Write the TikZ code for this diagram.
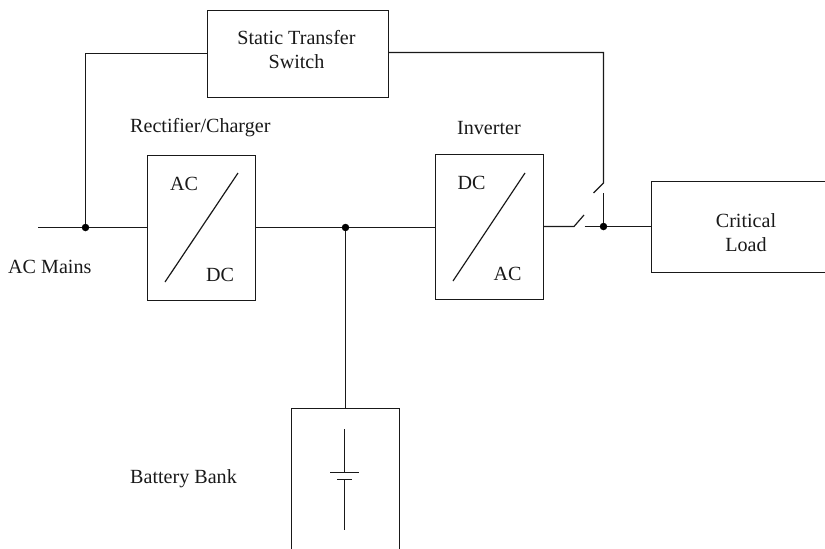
\documentclass[tikz,border=0pt]{standalone}
\usepackage{fontspec}
\setmainfont{Liberation Serif}
\tikzset{
  x=1pt,y=-1pt,
  wire/.style={line width=1.2pt,black!90},
  blockbox/.style={draw,line width=1.2pt,black!90,inner sep=0pt,outer sep=0pt,anchor=north west},
  txt/.style={inner sep=0pt,font=\fontsize{20.1}{24.5}\selectfont,text=black!90},
  junction/.style={circle,fill=black,inner sep=0pt,minimum size=7.5pt},
}
\begin{document}
\begin{tikzpicture}
\useasboundingbox (0,0) rectangle (825,549);
% boxes
\node[blockbox,minimum width=181pt,minimum height=87pt] (sts) at (207.5,10.5) {};
\node[txt,align=center] (stslabel) at (296.5,49.5) {Static Transfer\\Switch};
\node[blockbox,minimum width=108pt,minimum height=145pt] (rect) at (147.5,155.5) {};
\node[blockbox,minimum width=108pt,minimum height=145pt] (inv) at (435.5,154.5) {};
% open boxes
\coordinate (loadtr) at (825,181.5);
\coordinate (loadtl) at (651.5,181.5);
\coordinate (loadbl) at (651.5,272.5);
\coordinate (loadbr) at (825,272.5);
\draw[wire] (loadtr) -- (loadtl) -- (loadbl) -- (loadbr);
\node[txt,align=center] (load) at (746,232.5) {Critical\\Load};
\coordinate (battl) at (291.5,549);
\coordinate (batul) at (291.5,408.5);
\coordinate (batur) at (399.5,408.5);
\coordinate (battr) at (399.5,549);
\draw[wire] (battl) -- (batul) -- (batur) -- (battr);
% junctions
\node[junction] (j1) at (85.5,227.5) {};
\node[junction] (j2) at (345.5,227.5) {};
\node[junction] (j3) at (603.5,226.5) {};
% free ends
\coordinate (src) at (38,227.5);
\coordinate (sw1a) at (574,226.5);
\coordinate (sw1b) at (584,215);
\coordinate (sw1c) at (584.5,226.5);
\coordinate (sw2a) at (603.5,183);
\coordinate (sw2b) at (593.5,193);
\coordinate (sw2c) at (603.5,193);
\coordinate (stsL) at (85.5,53.5);
\coordinate (stsR) at (603.5,52.5);
% wires
\draw[wire] (src) -- (j1) -- (rect.west |- j1);
\draw[wire] (rect.east |- j2) -- (j2) -- (inv.west |- j2);
\draw[wire] (j1) -- (stsL) -- (sts.west |- stsL);
\draw[wire] (sts.east |- stsR) -- (stsR) -- (sw2a) -- (sw2b);
\draw[wire] (sw2c) -- (j3);
\draw[wire] (inv.east |- sw1a) -- (sw1a) -- (sw1b);
\draw[wire] (sw1c) -- (j3) -- (loadtl |- j3);
\draw[wire] (j2) -- (j2 |- batul);
% converter slashes
\coordinate (r1) at (165,282);
\coordinate (r2) at (238,173);
\coordinate (i1) at (453,281);
\coordinate (i2) at (525,173);
\draw[wire] (r1) -- (r2);
\draw[wire] (i1) -- (i2);
% battery symbol
\coordinate (b1) at (344.5,429);
\coordinate (b2) at (344.5,472.5);
\coordinate (b3) at (344.5,479.5);
\coordinate (b4) at (344.5,530);
\coordinate (p1) at (330,472.5);
\coordinate (p2) at (359,472.5);
\coordinate (p3) at (337,479.5);
\coordinate (p4) at (352,479.5);
\draw[wire] (b1) -- (b2);
\draw[wire] (b3) -- (b4);
\draw[wire] (p1) -- (p2);
\draw[wire] (p3) -- (p4);
% labels
\node[txt,anchor=west] (l1) at (130,128) {Rectifier/Charger};
\node[txt,anchor=west] (l2) at (457,128) {Inverter};
\node[txt,anchor=west] (l3) at (8,267) {AC Mains};
\node[txt,anchor=west] (l4) at (130,479) {Battery Bank};
\node[txt,anchor=west] (a1) at (170,184) {AC};
\node[txt,anchor=west] (a2) at (206,275) {DC};
\node[txt,anchor=west] (a3) at (457.5,183) {DC};
\node[txt,anchor=west] (a4) at (493.5,273.5) {AC};
\end{tikzpicture}
\end{document}
